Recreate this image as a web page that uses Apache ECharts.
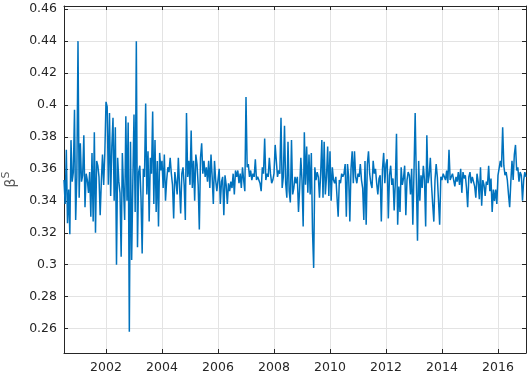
<!DOCTYPE html>
<html>
<head>
<meta charset="utf-8">
<script src="https://cdn.jsdelivr.net/npm/echarts@6/dist/echarts.min.js"></script>
<style>
html,body{margin:0;padding:0;background:#fff;}
#chart{width:528px;height:377px;}
</style>
</head>
<body>
<div id="chart"></div>
<script>
// Time index: first observation and sampling frequency (points per year)
const startYear = 2000.5;
const pointsPerYear = 24;
const xTicks = [2002, 2004, 2006, 2008, 2010, 2012, 2014, 2016];
const yTicks = [0.26, 0.28, 0.30, 0.32, 0.34, 0.36, 0.38, 0.40, 0.42, 0.44, 0.46];
const xRange = [2000.5, 2017.0];
const yRange = [0.2447, 0.462];
const yAxisName = 'β';
const yAxisNameSup = 'S';

// beta^S values
const betaS = [
0.353,0.338,0.372,0.326,0.347,0.319,0.378,0.352,0.358,0.397,
0.328,0.355,0.440,0.342,0.376,0.352,0.356,0.381,0.336,0.357,
0.353,0.345,0.358,0.330,0.370,0.327,0.383,0.320,0.365,0.362,
0.355,0.331,0.352,0.369,0.350,0.370,0.402,0.399,0.350,0.395,
0.343,0.374,0.392,0.340,0.386,0.300,0.367,0.352,0.345,0.305,
0.370,0.348,0.328,0.393,0.340,0.389,0.258,0.377,0.303,0.352,
0.394,0.333,0.440,0.311,0.358,0.362,0.342,0.307,
0.360,0.355,0.401,0.344,0.371,0.327,0.367,0.357,0.396,0.338,
0.378,0.333,0.365,0.324,0.370,0.359,0.365,0.348,0.369,0.340,
0.353,0.361,0.358,0.367,0.357,0.350,0.329,0.358,0.352,0.344,
0.367,0.350,0.332,0.357,0.361,0.350,0.328,0.395,0.355,0.365,
0.350,0.384,0.348,0.365,0.340,0.369,0.363,0.350,0.322,0.367,
0.376,0.357,0.365,0.355,0.361,0.352,0.365,0.348,0.369,0.355,
0.338,0.365,0.353,0.346,0.353,0.360,0.338,0.352,
0.355,0.331,0.356,0.350,0.338,0.351,0.346,0.352,0.348,0.357,
0.344,0.359,0.355,0.359,0.351,0.357,0.348,0.361,0.353,0.346,
0.405,0.361,0.363,0.355,0.359,0.353,0.357,0.355,0.366,0.353,
0.355,0.353,0.351,0.346,0.361,0.357,0.379,0.353,0.357,0.355,
0.367,0.357,0.351,0.353,0.357,0.375,0.374,0.355,0.359,0.357,
0.392,0.348,0.355,0.387,0.351,0.342,0.377,0.346,0.339,0.378,
0.344,0.348,0.355,0.351,0.355,0.333,0.348,
0.367,0.353,0.324,0.383,0.350,0.374,0.345,0.369,0.344,0.370,
0.321,0.298,0.361,0.353,0.358,0.355,0.342,0.357,0.378,0.342,
0.377,0.344,0.355,0.374,0.343,0.371,0.340,0.361,0.353,0.351,
0.355,0.356,0.330,0.353,0.351,0.357,0.355,0.357,0.363,0.330,
0.363,0.355,0.327,0.360,0.371,0.351,0.371,0.355,0.351,0.357,
0.355,0.363,0.353,0.348,0.328,0.365,0.325,0.363,0.371,0.357,
0.351,0.348,0.365,0.357,0.360,0.351,0.344,
0.354,0.356,0.327,0.360,0.370,0.351,0.363,0.366,0.329,0.356,
0.362,0.350,0.354,0.334,0.352,0.382,0.325,0.349,0.333,0.361,
0.350,0.354,0.362,0.331,0.353,0.358,0.356,0.344,0.360,0.325,
0.358,0.395,0.353,0.315,0.365,0.340,0.356,0.348,0.362,0.353,
0.324,0.381,0.351,0.356,0.367,0.350,0.338,0.327,0.353,0.363,
0.355,0.340,0.325,0.355,0.353,0.357,0.355,0.353,0.359,0.351,
0.372,0.353,0.355,0.357,0.353,0.349,0.355,
0.352,0.358,0.350,0.360,0.345,0.358,0.354,0.356,0.348,0.336,
0.355,0.358,0.351,0.355,0.356,0.349,0.342,0.357,0.352,0.341,
0.361,0.337,0.353,0.350,0.343,0.352,0.350,0.362,0.346,0.354,
0.333,0.347,0.340,0.347,0.338,0.356,0.356,0.365,0.361,0.386,
0.362,0.356,0.358,0.353,0.344,0.336,0.352,0.365,0.353,0.369,
0.375,0.359,0.361,0.352,0.358,0.356,0.340,0.353,0.358,0.355
];

const seriesData = betaS.map((v, i) => [startYear + i / pointsPerYear, v]);

const axisColor = '#262626';
const gridColor = '#e3e3e3';
const fontFam = '"DejaVu Sans", "Liberation Sans", Arial, sans-serif';

function baseX(pos, showLabel) {
  return {
    type: 'value', position: pos, min: xRange[0], max: xRange[1],
    axisLine: { show: true, onZero: false, lineStyle: { color: axisColor, width: 1 } },
    axisTick: { show: true, inside: true, length: 4, customValues: xTicks, lineStyle: { color: axisColor } },
    axisLabel: { show: showLabel, customValues: xTicks, color: axisColor, fontSize: 12.5, fontFamily: fontFam, margin: 8,
      formatter: v => String(v) },
    splitLine: { show: showLabel, lineStyle: { color: gridColor, width: 1 } }
  };
}
function baseY(pos, showLabel) {
  return {
    type: 'value', position: pos, min: yRange[0], max: yRange[1],
    axisLine: { show: true, onZero: false, lineStyle: { color: axisColor, width: 1 } },
    axisTick: { show: true, inside: true, length: 4, customValues: yTicks, lineStyle: { color: axisColor } },
    axisLabel: { show: showLabel, customValues: yTicks, color: axisColor, fontSize: 12.5, fontFamily: fontFam, margin: 7,
      formatter: v => String(Math.round(v * 100) / 100) },
    splitLine: { show: showLabel, lineStyle: { color: gridColor, width: 1 } }
  };
}

const yLeft = baseY('left', true);
yLeft.name = '{b|' + yAxisName + '}{s|' + yAxisNameSup + '}';
yLeft.nameLocation = 'middle';
yLeft.nameRotate = 90;
yLeft.nameGap = 42;
yLeft.nameTextStyle = {
  color: '#5a5a5a', fontFamily: fontFam,
  rich: {
    b: { fontSize: 14, color: '#5a5a5a', fontFamily: fontFam, verticalAlign: 'bottom', lineHeight: 18 },
    s: { fontSize: 11, color: '#5a5a5a', fontFamily: fontFam, verticalAlign: 'top', lineHeight: 18 }
  }
};

const chart = echarts.init(document.getElementById('chart'), null, { renderer: 'canvas' });
chart.setOption({
  animation: false,
  backgroundColor: '#fff',
  grid: { left: 64, right: 2, top: 6, bottom: 24, containLabel: false, outerBoundsMode: 'none' },
  xAxis: [baseX('bottom', true), baseX('top', false)],
  yAxis: [yLeft, baseY('right', false)],
  series: [{
    type: 'line', xAxisIndex: 0, yAxisIndex: 0,
    data: seriesData, showSymbol: false, symbol: 'none',
    lineStyle: { color: '#0072BD', width: 1.5 },
    z: 3
  }]
});
</script>
</body>
</html>
